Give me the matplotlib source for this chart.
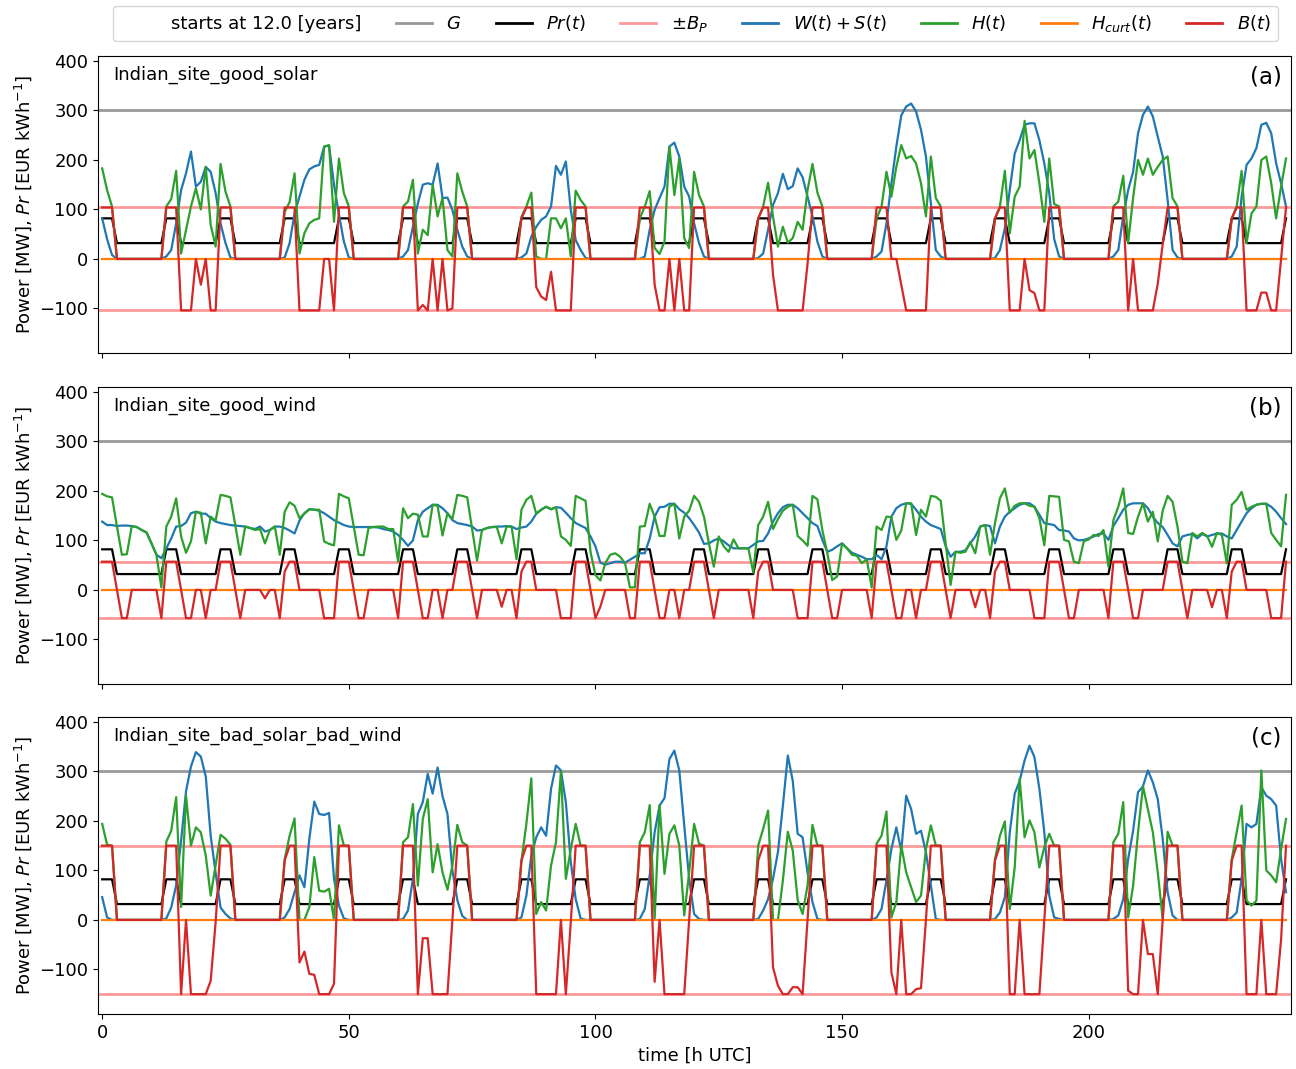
import numpy as np
import matplotlib
matplotlib.use("Agg")
import matplotlib.pyplot as plt
from matplotlib.lines import Line2D

start_years = 12.0
G = 300
sites = ["Indian_site_good_solar", "Indian_site_good_wind", "Indian_site_bad_solar_bad_wind"]
tags = ["(a)", "(b)", "(c)"]
bp = [104, 57, 150]

# price signal Pr(t), one row per day
pr = [82, 82, 82, 32, 32, 32, 32, 32, 32, 32, 32, 32, 32, 82, 82, 82, 32, 32, 32, 32, 32, 32, 32, 32,
      82, 82, 82, 32, 32, 32, 32, 32, 32, 32, 32, 32, 32, 82, 82, 82, 32, 32, 32, 32, 32, 32, 32, 32,
      82, 82, 82, 32, 32, 32, 32, 32, 32, 32, 32, 32, 32, 82, 82, 82, 32, 32, 32, 32, 32, 32, 32, 32,
      82, 82, 82, 32, 32, 32, 32, 32, 32, 32, 32, 32, 32, 82, 82, 82, 32, 32, 32, 32, 32, 32, 32, 32,
      82, 82, 82, 32, 32, 32, 32, 32, 32, 32, 32, 32, 32, 82, 82, 82, 32, 32, 32, 32, 32, 32, 32, 32,
      82, 82, 82, 32, 32, 32, 32, 32, 32, 32, 32, 32, 32, 82, 82, 82, 32, 32, 32, 32, 32, 32, 32, 32,
      82, 82, 82, 32, 32, 32, 32, 32, 32, 32, 32, 32, 32, 82, 82, 82, 32, 32, 32, 32, 32, 32, 32, 32,
      82, 82, 82, 32, 32, 32, 32, 32, 32, 32, 32, 32, 32, 82, 82, 82, 32, 32, 32, 32, 32, 32, 32, 32,
      82, 82, 82, 32, 32, 32, 32, 32, 32, 32, 32, 32, 32, 82, 82, 82, 32, 32, 32, 32, 32, 32, 32, 32,
      82, 82, 82, 32, 32, 32, 32, 32, 32, 32, 32, 32, 32, 82, 82, 82, 32, 32, 32, 32, 32, 32, 32, 32,
      82]

# (a) good solar
ws_a = [82, 40, 8, 0, 0, 0, 0, 0, 0, 0, 0, 0, 0, 5, 18, 72, 139, 173, 217, 146, 156, 186, 176, 133,
        72, 32, 3, 0, 0, 0, 0, 0, 0, 0, 0, 0, 0, 3, 32, 92, 126, 160, 181, 187, 190, 227, 229, 150,
        90, 35, 3, 0, 0, 0, 0, 0, 0, 0, 0, 0, 0, 5, 18, 65, 112, 150, 153, 150, 193, 123, 124, 99,
        59, 25, 5, 0, 0, 0, 0, 0, 0, 0, 0, 0, 0, 3, 11, 45, 65, 79, 86, 106, 188, 170, 197, 99,
        38, 18, 2, 0, 0, 0, 0, 0, 0, 0, 0, 0, 0, 0, 5, 59, 99, 123, 146, 227, 235, 207, 146, 126,
        72, 32, 5, 0, 0, 0, 0, 0, 0, 0, 0, 0, 0, 2, 11, 59, 109, 133, 172, 141, 147, 183, 165, 126,
        86, 35, 5, 0, 0, 0, 0, 0, 0, 0, 0, 0, 0, 5, 15, 72, 153, 227, 290, 308, 314, 298, 261, 207,
        112, 18, 5, 0, 0, 0, 0, 0, 0, 0, 0, 0, 0, 2, 18, 62, 140, 213, 240, 271, 274, 274, 240, 193,
        133, 40, 5, 0, 0, 0, 0, 0, 0, 0, 0, 0, 0, 5, 18, 86, 139, 176, 254, 291, 308, 288, 247, 207,
        119, 18, 3, 0, 0, 0, 0, 0, 0, 0, 0, 0, 0, 5, 25, 126, 190, 203, 224, 271, 275, 254, 193, 153,
        106]
h_a = [183, 139, 106, 0, 0, 0, 0, 0, 0, 0, 0, 0, 0, 106, 121, 178, 11, 59, 106, 143, 100, 186, 69, 25,
       192, 136, 106, 0, 0, 0, 0, 0, 0, 0, 0, 0, 0, 95, 115, 173, 11, 52, 72, 79, 82, 227, 230, 75,
       203, 133, 106, 0, 0, 0, 0, 0, 0, 0, 0, 0, 0, 106, 116, 160, 11, 59, 48, 150, 86, 123, 18, 5,
       173, 136, 106, 0, 0, 0, 0, 0, 0, 0, 0, 0, 0, 85, 106, 134, 5, 0, 0, 82, 82, 62, 82, 5,
       138, 119, 106, 0, 0, 0, 0, 0, 0, 0, 0, 0, 0, 82, 106, 137, 22, 10, 35, 227, 129, 203, 42, 22,
       176, 129, 106, 0, 0, 0, 0, 0, 0, 0, 0, 0, 0, 82, 106, 154, 86, 25, 65, 33, 42, 75, 59, 139,
       192, 134, 106, 0, 0, 0, 0, 0, 0, 0, 0, 0, 0, 82, 106, 176, 126, 186, 230, 203, 208, 193, 153, 86,
       207, 123, 106, 0, 0, 0, 0, 0, 0, 0, 0, 0, 0, 82, 106, 178, 52, 126, 146, 279, 203, 220, 153, 75,
       203, 111, 106, 0, 0, 0, 0, 0, 0, 0, 0, 0, 0, 106, 116, 168, 33, 123, 200, 170, 203, 170, 186, 200,
       207, 123, 106, 0, 0, 0, 0, 0, 0, 0, 0, 0, 0, 82, 106, 178, 32, 92, 106, 200, 207, 153, 82, 146,
       203]
b_a = [104, 104, 104, 0, 0, 0, 0, 0, 0, 0, 0, 0, 0, 104, 104, 104, -104, -104, -104, 0, -52, 0, -104, -104,
       104, 104, 104, 0, 0, 0, 0, 0, 0, 0, 0, 0, 0, 104, 104, 104, -104, -104, -104, -104, -104, 0, 0, -104,
       104, 104, 104, 0, 0, 0, 0, 0, 0, 0, 0, 0, 0, 104, 104, 104, -104, -93, -104, 0, -104, 0, -104, -100,
       104, 104, 104, 0, 0, 0, 0, 0, 0, 0, 0, 0, 0, 82, 104, 104, -57, -76, -83, -26, -104, -104, -104, -104,
       104, 104, 104, 0, 0, 0, 0, 0, 0, 0, 0, 0, 0, 104, 104, 104, -52, -104, -104, 0, -104, 0, -104, -104,
       104, 104, 104, 0, 0, 0, 0, 0, 0, 0, 0, 0, 0, 82, 104, 104, -32, -104, -104, -104, -104, -104, -104, -10,
       104, 104, 104, 0, 0, 0, 0, 0, 0, 0, 0, 0, 0, 104, 104, 104, 0, 0, -52, -104, -104, -104, -104, -104,
       104, 104, 104, 0, 0, 0, 0, 0, 0, 0, 0, 0, 0, 82, 104, 104, -104, -104, -104, 0, -63, -69, -104, -104,
       104, 104, 104, 0, 0, 0, 0, 0, 0, 0, 0, 0, 0, 104, 104, 104, -104, 0, -104, -104, -104, -104, -50, 30,
       104, 104, 104, 0, 0, 0, 0, 0, 0, 0, 0, 0, 0, 82, 104, 104, -104, -104, -104, -68, -68, -104, -104, 0,
       104]

# (b) good wind
ws_b = [138, 131, 131, 129, 130, 130, 129, 127, 121, 116, 94, 71, 64, 84, 104, 128, 129, 136, 155, 158, 154, 154, 145, 138,
        135, 133, 131, 130, 129, 128, 125, 123, 128, 118, 121, 128, 128, 125, 120, 114, 140, 155, 163, 162, 160, 155, 148, 141,
        136, 131, 128, 127, 127, 127, 127, 127, 126, 123, 121, 118, 111, 101, 89, 100, 141, 158, 165, 172, 172, 165, 155, 141,
        135, 133, 131, 128, 120, 121, 125, 127, 128, 128, 129, 128, 123, 126, 128, 138, 154, 162, 168, 163, 167, 166, 156, 145,
        135, 130, 125, 108, 88, 55, 51, 54, 57, 57, 55, 61, 67, 74, 74, 104, 148, 167, 168, 174, 174, 163, 156, 145,
        131, 116, 93, 94, 100, 104, 98, 90, 84, 84, 84, 84, 91, 98, 99, 114, 138, 155, 167, 172, 172, 165, 155, 145,
        135, 129, 101, 77, 81, 88, 94, 84, 75, 71, 67, 62, 62, 71, 62, 88, 148, 165, 172, 175, 174, 162, 148, 138,
        131, 127, 123, 88, 67, 77, 77, 80, 94, 108, 128, 131, 129, 94, 128, 148, 158, 165, 172, 175, 175, 168, 152, 135,
        133, 131, 121, 120, 118, 104, 100, 101, 104, 108, 113, 114, 101, 129, 145, 162, 172, 175, 175, 175, 165, 148, 135, 127,
        111, 94, 88, 108, 111, 113, 104, 113, 108, 111, 114, 114, 108, 104, 121, 138, 155, 165, 172, 174, 174, 168, 158, 145,
        133]
h_b = [194, 189, 187, 128, 71, 72, 129, 127, 121, 116, 94, 71, 5, 128, 148, 185, 108, 75, 98, 158, 156, 94, 148, 140,
       192, 190, 187, 130, 71, 128, 125, 121, 123, 94, 121, 128, 71, 158, 177, 170, 145, 154, 163, 162, 162, 98, 93, 90,
       194, 189, 185, 128, 71, 70, 125, 127, 128, 128, 123, 123, 57, 165, 145, 154, 152, 108, 108, 172, 170, 110, 155, 143,
       192, 190, 187, 123, 59, 121, 125, 127, 127, 94, 128, 128, 62, 162, 182, 190, 154, 162, 168, 163, 167, 108, 101, 89,
       190, 185, 180, 77, 30, 19, 54, 71, 74, 67, 54, 5, 5, 128, 129, 174, 148, 109, 109, 168, 174, 104, 148, 160,
       190, 178, 148, 94, 47, 108, 88, 77, 102, 84, 84, 84, 35, 131, 148, 178, 123, 143, 160, 168, 172, 109, 100, 89,
       190, 183, 121, 75, 20, 27, 94, 84, 71, 69, 54, 62, 5, 128, 121, 148, 147, 101, 120, 175, 175, 111, 162, 148,
       190, 188, 180, 94, 10, 77, 75, 77, 97, 74, 128, 131, 71, 135, 185, 205, 156, 170, 175, 175, 170, 168, 145, 90,
       190, 189, 188, 101, 98, 57, 54, 98, 102, 111, 109, 121, 47, 141, 168, 205, 115, 113, 148, 175, 138, 158, 98, 160,
       190, 178, 128, 57, 54, 115, 108, 115, 109, 87, 115, 111, 54, 172, 182, 198, 162, 168, 172, 174, 174, 115, 101, 88,
       192]
b_b = [57, 57, 57, 0, -57, -57, 0, 0, 0, 0, 0, 0, -57, 57, 57, 57, 0, -57, -57, 0, 0, -57, 0, 0,
       57, 57, 57, 0, -57, 0, 0, 0, 0, -17, 0, 0, -57, 37, 57, 57, 0, 0, 0, 0, 0, -57, -57, -57,
       57, 57, 57, 0, -57, -57, 0, 0, 0, 0, 0, 0, -57, 57, 57, 57, 0, -57, -57, 0, 0, -57, 0, 0,
       57, 57, 57, 0, -57, 0, 0, 0, 0, -34, 0, 0, -57, 37, 57, 57, 0, 0, 0, 0, 0, -57, -57, -57,
       57, 57, 57, 0, -57, -34, 0, 0, 0, 0, 0, -57, -57, 57, 57, 57, 0, -57, -57, 0, 0, -57, 0, 0,
       57, 57, 57, 0, -57, 0, 0, 0, 0, 0, 0, 0, -57, 37, 57, 57, 0, 0, 0, 0, 0, -57, -57, -57,
       57, 57, 57, 0, -57, -57, 0, 0, 0, 0, 0, 0, -57, 57, 57, 57, 0, -57, -57, 0, 0, -57, 0, 0,
       57, 57, 57, 0, -57, 0, 0, 0, 0, -35, 0, 0, -57, 37, 57, 57, 0, 0, 0, 0, 0, -57, -57, -57,
       57, 57, 57, 0, -57, -57, 0, 0, 0, 0, 0, 0, -57, 57, 57, 57, 0, -57, -57, 0, 0, 0, 0, 0,
       57, 57, 57, 0, -57, 0, 0, 0, 0, -35, 0, 0, -57, 37, 57, 57, 0, 0, 0, 0, 0, -57, -57, -57,
       57]

# (c) bad solar, bad wind
ws_c = [46, 5, 0, 0, 0, 0, 0, 0, 0, 0, 0, 0, 0, 3, 25, 70, 160, 260, 310, 339, 330, 290, 170, 95,
        25, 12, 3, 0, 0, 0, 0, 0, 0, 0, 0, 0, 0, 5, 22, 56, 90, 66, 164, 239, 214, 212, 216, 83,
        29, 3, 0, 0, 0, 0, 0, 0, 0, 0, 0, 0, 0, 2, 19, 83, 214, 238, 295, 255, 308, 250, 214, 100,
        40, 8, 0, 0, 0, 0, 0, 0, 0, 0, 0, 0, 0, 5, 49, 130, 167, 187, 170, 265, 312, 302, 238, 117,
        42, 3, 0, 0, 0, 0, 0, 0, 0, 0, 0, 0, 0, 2, 22, 90, 177, 231, 246, 325, 342, 302, 191, 83,
        12, 2, 0, 0, 0, 0, 0, 0, 0, 0, 0, 0, 0, 2, 19, 42, 83, 137, 231, 332, 281, 174, 167, 96,
        36, 2, 0, 0, 0, 0, 0, 0, 0, 0, 0, 0, 0, 5, 22, 80, 143, 187, 140, 251, 224, 174, 180, 137,
        70, 2, 0, 0, 0, 0, 0, 0, 0, 0, 0, 0, 0, 2, 15, 46, 177, 255, 281, 322, 352, 329, 265, 177,
        49, 5, 2, 0, 0, 0, 0, 0, 0, 0, 0, 0, 0, 2, 9, 42, 123, 180, 258, 270, 302, 278, 244, 164,
        56, 9, 0, 0, 0, 0, 0, 0, 0, 0, 0, 0, 0, 5, 15, 83, 194, 187, 194, 268, 251, 244, 231, 123,
        56]
h_c = [194, 152, 150, 0, 0, 0, 0, 0, 0, 0, 0, 0, 0, 158, 180, 248, 26, 251, 150, 187, 177, 130, 49, 110,
       172, 164, 152, 0, 0, 0, 0, 0, 0, 0, 0, 0, 0, 123, 170, 205, 0, 0, 26, 127, 59, 57, 63, 0,
       191, 150, 150, 0, 0, 0, 0, 0, 0, 0, 0, 0, 0, 157, 167, 234, 69, 204, 244, 96, 153, 96, 61, 110,
       192, 157, 150, 0, 0, 0, 0, 0, 0, 0, 0, 0, 0, 120, 194, 286, 12, 36, 19, 110, 157, 300, 83, 143,
       194, 150, 150, 0, 0, 0, 0, 0, 0, 0, 0, 0, 0, 157, 177, 232, 2, 232, 93, 174, 191, 150, 9, 96,
       194, 154, 150, 0, 0, 0, 0, 0, 0, 0, 0, 0, 0, 150, 184, 221, 0, 0, 80, 178, 140, 40, 12, 70,
       192, 150, 150, 0, 0, 0, 0, 0, 0, 0, 0, 0, 0, 154, 170, 219, 5, 36, 150, 96, 66, 36, 49, 143,
       191, 150, 150, 0, 0, 0, 0, 0, 0, 0, 0, 0, 0, 123, 170, 199, 22, 106, 285, 167, 201, 177, 106, 147,
       174, 150, 150, 0, 0, 0, 0, 0, 0, 0, 0, 0, 0, 157, 174, 238, 5, 69, 177, 270, 224, 177, 96, 2,
       178, 150, 150, 0, 0, 0, 0, 0, 0, 0, 0, 0, 0, 123, 177, 231, 39, 29, 39, 302, 100, 90, 76, 143,
       204]
b_c = [150, 150, 150, 0, 0, 0, 0, 0, 0, 0, 0, 0, 0, 150, 150, 150, -150, 0, -150, -150, -150, -150, -123, -5,
       150, 150, 150, 0, 0, 0, 0, 0, 0, 0, 0, 0, 0, 120, 150, 150, -86, -64, -109, -111, -150, -150, -150, -129,
       150, 150, 150, 0, 0, 0, 0, 0, 0, 0, 0, 0, 0, 150, 150, 150, -150, -37, -37, -150, -150, -150, -150, 0,
       150, 150, 150, 0, 0, 0, 0, 0, 0, 0, 0, 0, 0, 120, 150, 150, -150, -150, -150, -150, -150, 0, -150, -5,
       150, 150, 150, 0, 0, 0, 0, 0, 0, 0, 0, 0, 0, 150, 150, 150, -125, 0, -150, -150, -150, -150, -150, 0,
       150, 150, 150, 0, 0, 0, 0, 0, 0, 0, 0, 0, 0, 120, 150, 150, -96, -133, -150, -150, -136, -136, -150, 0,
       150, 150, 150, 0, 0, 0, 0, 0, 0, 0, 0, 0, 0, 150, 150, 150, -106, -150, 0, -150, -150, -140, -138, 0,
       150, 150, 150, 0, 0, 0, 0, 0, 0, 0, 0, 0, 0, 120, 150, 150, -150, -150, 0, -150, -150, -150, -150, 0,
       150, 150, 150, 0, 0, 0, 0, 0, 0, 0, 0, 0, 0, 150, 150, 150, -143, -150, -150, 0, -69, -69, -150, 0,
       150, 150, 150, 0, 0, 0, 0, 0, 0, 0, 0, 0, 0, 120, 150, 150, -150, -150, -150, 0, -150, -150, -150, -40,
       150]

ws = [ws_a, ws_b, ws_c]
hh = [h_a, h_b, h_c]
bb = [b_a, b_b, b_c]

t = np.arange(len(pr))
h_curt = np.zeros(len(pr))

plt.rcParams["font.size"] = 13
fig = plt.figure(figsize=(12.96, 10.69), dpi=100)

bottoms = [0.6698, 0.3602, 0.0515]
lw = 1.6
for i in range(3):
    ax = fig.add_axes([0.0756, bottoms[i], 0.9205, 0.2778])
    ax.axhline(G, color="#999999", lw=2)
    ax.plot(t, pr, color="k", lw=lw)
    ax.axhline(bp[i], color="r", alpha=0.4, lw=2)
    ax.axhline(-bp[i], color="r", alpha=0.4, lw=2)
    ax.plot(t, ws[i], color="C0", lw=lw)
    ax.plot(t, hh[i], color="C2", lw=lw)
    ax.plot(t, h_curt, color="C1", lw=lw)
    ax.plot(t, bb[i], color="C3", lw=lw)
    ax.set_xlim(-0.85, 241)
    ax.set_ylim(-190, 410)
    ax.set_yticks([-100, 0, 100, 200, 300, 400])
    ax.set_xticks([0, 50, 100, 150, 200])
    ax.set_ylabel(r"Power [MW], $Pr$ [EUR kWh$^{-1}$]")
    ax.text(0.0125, 0.935, sites[i], transform=ax.transAxes, va="center", ha="left", fontsize=13)
    ax.text(0.992, 0.93, tags[i], transform=ax.transAxes, va="center", ha="right", fontsize=16.5)
    if i < 2:
        ax.tick_params(labelbottom=False)
    else:
        ax.set_xlabel("time [h UTC]")

handles = [Line2D([], [], color="none"),
           Line2D([], [], color="#999999", lw=2),
           Line2D([], [], color="k", lw=2),
           Line2D([], [], color="r", alpha=0.4, lw=2),
           Line2D([], [], color="C0", lw=2),
           Line2D([], [], color="C2", lw=2),
           Line2D([], [], color="C1", lw=2),
           Line2D([], [], color="C3", lw=2)]
labels = ["starts at %.1f [years]" % start_years, "$G$", "$Pr(t)$", r"$\pm B_P$",
          "$W(t) + S(t)$", "$H(t)$", "$H_{curt}(t)$", "$B(t)$"]
fig.legend(handles, labels, loc="upper center", bbox_to_anchor=(0.5367, 1.003), ncol=8,
           fontsize=13, handlelength=2.0, columnspacing=1.9)

fig.savefig("out.png", dpi=100)
